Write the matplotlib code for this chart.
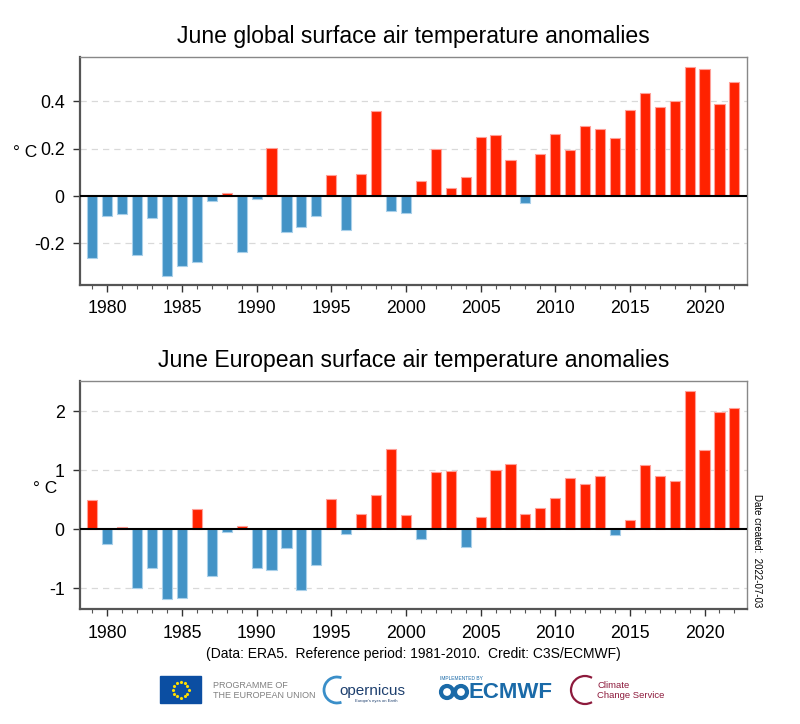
import numpy as np
import matplotlib
matplotlib.use('Agg')
import matplotlib.pyplot as plt
from matplotlib.patches import Rectangle, Arc, Circle
from matplotlib.ticker import MultipleLocator

plt.rcParams['font.family'] = ['Liberation Sans', 'DejaVu Sans']

years = np.arange(1979, 2023)

global_anom = [-0.26, -0.082, -0.077, -0.249, -0.094, -0.337, -0.296, -0.277, -0.020, 0.015,
               -0.235, -0.013, 0.201, -0.151, -0.132, -0.082, 0.087, -0.145, 0.093, 0.358,
               -0.061, -0.073, 0.062, 0.199, 0.034, 0.080, 0.251, 0.256, 0.151, -0.028,
               0.177, 0.261, 0.194, 0.294, 0.282, 0.246, 0.362, 0.437, 0.376, 0.400,
               0.545, 0.535, 0.389, 0.483]

europe_anom = [0.497, -0.254, 0.034, -0.989, -0.661, -1.186, -1.158, 0.339, -0.785, -0.040,
               0.056, -0.661, -0.695, -0.322, -1.034, -0.610, 0.514, -0.073, 0.254, 0.576,
               1.356, 0.237, -0.169, 0.972, 0.989, -0.305, 0.209, 1.011, 1.107, 0.260,
               0.362, 0.531, 0.870, 0.774, 0.904, -0.102, 0.158, 1.085, 0.904, 0.825,
               2.345, 1.350, 1.989, 2.051]

global_ticks = [-0.2, 0, 0.2, 0.4]
global_ticklabels = ['-0.2', '0', '0.2', '0.4']
europe_ticks = [-1, 0, 1, 2]
europe_ticklabels = ['-1', '0', '1', '2']
year_ticks = [1980, 1985, 1990, 1995, 2000, 2005, 2010, 2015, 2020]

RED = '#ff2200'
RED_EDGE = '#ffa098'
BLUE = '#4393c6'
BLUE_EDGE = '#a9d0ea'


def draw_panel(ax, vals, title, ylim, ticks, ticklabels):
    vals = np.array(vals)
    cols = [RED if v > 0 else BLUE for v in vals]
    edges = [RED_EDGE if v > 0 else BLUE_EDGE for v in vals]
    ax.bar(years, vals, width=0.68, color=cols, edgecolor=edges, linewidth=0.8, zorder=3)
    ax.axhline(0, color='black', lw=1.5, zorder=4)
    ax.set_xlim(1978.17, 2022.82)
    ax.set_ylim(*ylim)
    ax.set_yticks(ticks)
    ax.set_yticklabels(ticklabels)
    ax.set_xticks(year_ticks)
    ax.set_xticklabels([str(y) for y in year_ticks])
    ax.xaxis.set_minor_locator(MultipleLocator(1))
    for t in ticks:
        if t != 0:
            ax.axhline(t, color='#d9d9d9', lw=0.9, ls=(0, (5, 4)), zorder=1)
    for s in ['top', 'right']:
        ax.spines[s].set_color('#888888')
        ax.spines[s].set_linewidth(1.0)
    for s in ['left', 'bottom']:
        ax.spines[s].set_color('#555555')
        ax.spines[s].set_linewidth(1.6)
    ax.tick_params(axis='both', which='major', direction='out', length=5, width=1,
                   color='#333333', labelsize=12.8, pad=6)
    ax.tick_params(axis='x', which='minor', direction='out', length=3, width=0.8, color='#555555')
    ax.tick_params(top=False, right=False)
    ax.set_title(title, fontsize=16.6, pad=10)


fig = plt.figure(figsize=(8, 7.24), dpi=100)

ax1 = fig.add_axes([0.1, 0.6064, 0.8333, 0.3149])
draw_panel(ax1, global_anom, 'June global surface air temperature anomalies',
           (-0.375, 0.587), global_ticks, global_ticklabels)
ax1.text(-0.083, 0.58, '° C', transform=ax1.transAxes, fontsize=12.5, ha='center', va='center')

ax2 = fig.add_axes([0.1, 0.1584, 0.8333, 0.3153])
draw_panel(ax2, europe_anom, 'June European surface air temperature anomalies',
           (-1.356, 2.514), europe_ticks, europe_ticklabels)
ax2.text(-0.053, 0.53, '° C', transform=ax2.transAxes, fontsize=12.5, ha='center', va='center')

fig.text(757 / 800, 1 - 551 / 724, 'Date created:  2022-07-03', rotation=270,
         fontsize=7, ha='center', va='center')
fig.text(413 / 800, 1 - 654 / 724, '(Data: ERA5.  Reference period: 1981-2010.  Credit: C3S/ECMWF)',
         fontsize=10, ha='center', va='center')

# logo strip, drawn in pixel coordinates
lg = fig.add_axes([0, 0, 1, 1], zorder=-1)
lg.set_xlim(0, 800)
lg.set_ylim(724, 0)
lg.axis('off')

# EU flag
lg.add_patch(Rectangle((160, 676), 41, 27, color='#0b4ea2'))
ang = np.linspace(0, 2 * np.pi, 13)[:-1]
lg.scatter(180.5 + 8 * np.cos(ang), 689.5 + 8 * np.sin(ang), s=2, color='#ffdd00', marker='*')
lg.text(213, 685, 'PROGRAMME OF', fontsize=6.5, color='#808080', va='center')
lg.text(213, 696, 'THE EUROPEAN UNION', fontsize=6.5, color='#808080', va='center')

# Copernicus
lg.add_patch(Arc((337, 690), 26, 26, theta1=70, theta2=290, color='#3a8fc9', lw=2))
lg.text(339, 691, 'opernicus', fontsize=11, color='#1d3f6e', va='center')
lg.text(355, 701, 'Europe\'s eyes on Earth', fontsize=3, color='#1d3f6e', va='center')

# ECMWF
lg.text(440, 679, 'IMPLEMENTED BY', fontsize=3.5, color='#1a6aa8', va='center')
lg.add_patch(Circle((447, 692), 6, fill=False, ec='#1a6aa8', lw=3))
lg.add_patch(Circle((461, 692), 6, fill=False, ec='#1a6aa8', lw=3))
lg.text(468, 692, 'ECMWF', fontsize=16, fontweight='bold', color='#1a6aa8', va='center')

# Climate Change Service
lg.add_patch(Arc((585, 690), 28, 28, theta1=60, theta2=300, color='#8d1a3c', lw=1.6))
lg.text(597, 685, 'Climate', fontsize=6.8, color='#8d1a3c', va='center')
lg.text(597, 695, 'Change Service', fontsize=6.8, color='#8d1a3c', va='center')

fig.savefig('out.png', dpi=100)
